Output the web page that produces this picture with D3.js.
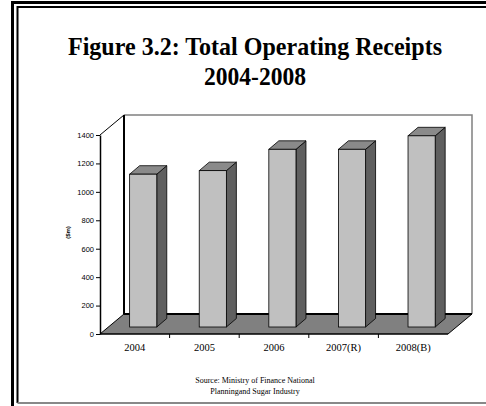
<!DOCTYPE html>
<html>
<head>
<meta charset="utf-8">
<script src="https://cdn.jsdelivr.net/npm/d3@7/dist/d3.min.js"></script>
<style>
  html, body { margin: 0; padding: 0; background: #fff; }
  svg { display: block; }
</style>
</head>
<body>
<svg id="chart" width="486" height="406"></svg>
<script>
// Total operating receipts ($m), 2004-2008
const categories = ["2004", "2005", "2006", "2007(R)", "2008(B)"];
const receipts = [1075, 1100, 1250, 1250, 1345];
const yTicks = [0, 200, 400, 600, 800, 1000, 1200, 1400];
const titleLines = ["Figure 3.2: Total Operating Receipts", "2004-2008"];
const sourceLines = ["Source: Ministry of Finance National", "Planningand Sugar Industry"];

const svg = d3.select("#chart");

// Page frame (double rule)
svg.append("path").attr("d", "M12.5,406 V2.5 H486")
  .attr("fill", "none").attr("stroke", "#000").attr("stroke-width", 3);
svg.append("path").attr("d", "M17.5,403 V7 H486")
  .attr("fill", "none").attr("stroke", "#000").attr("stroke-width", 2);
svg.append("line").attr("x1", 17.5).attr("x2", 486).attr("y1", 403).attr("y2", 403)
  .attr("stroke", "#888").attr("stroke-width", 2);

// Title
const titleSpec = [{y: 55, w: 374}, {y: 85, w: 102}];
svg.selectAll("text.title").data(titleLines).join("text")
  .attr("class", "title")
  .attr("x", 255).attr("y", (d, i) => titleSpec[i].y)
  .attr("text-anchor", "middle")
  .attr("textLength", (d, i) => titleSpec[i].w)
  .attr("lengthAdjust", "spacingAndGlyphs")
  .style("font-family", "'Liberation Serif', 'Times New Roman', serif")
  .style("font-weight", "bold").style("font-size", "25px")
  .text(d => d);

// Plot geometry: front plane scales plus the 3-D depth offset
const depth = {dx: 24, dy: -20};
const x = d3.scaleBand().domain(categories).range([100, 448])
  .paddingInner(0.61).paddingOuter(0.305);
const xEdge = d3.scaleBand().domain(categories).range([100, 448]);
const y = d3.scaleLinear().domain([0, 1400]).range([334, 135]);
const x0 = 100, x1 = 448;

// Back wall
svg.append("rect")
  .attr("x", x0 + depth.dx).attr("y", y(1400) + depth.dy)
  .attr("width", x1 - x0).attr("height", y(0) - y(1400))
  .attr("fill", "#fff");
svg.append("path")
  .attr("d", `M${x0 + depth.dx},${y(1400) + depth.dy} H${x1 + depth.dx} V${y(0) + depth.dy}`)
  .attr("fill", "none").attr("stroke", "#808080").attr("stroke-width", 1.5);
svg.append("line")
  .attr("x1", x0 + depth.dx).attr("x2", x0 + depth.dx)
  .attr("y1", y(1400) + depth.dy).attr("y2", y(0) + depth.dy)
  .attr("stroke", "#000").attr("stroke-width", 2);
// Side wall top edge
svg.append("line")
  .attr("x1", x0).attr("y1", y(1400))
  .attr("x2", x0 + depth.dx).attr("y2", y(1400) + depth.dy)
  .attr("stroke", "#000").attr("stroke-width", 1);

// Floor
svg.append("path")
  .attr("d", `M${x0},${y(0)} H${x1} L${x1 + depth.dx},${y(0) + depth.dy} H${x0 + depth.dx} Z`)
  .attr("fill", "#808080").attr("stroke", "#000").attr("stroke-width", 1);
svg.append("line")
  .attr("x1", x0 + depth.dx).attr("x2", x1 + depth.dx)
  .attr("y1", y(0) + depth.dy).attr("y2", y(0) + depth.dy)
  .attr("stroke", "#000").attr("stroke-width", 2);

// Columns: front, side and top faces
const f = 0.35, barDepth = {dx: 10, dy: -8.5};
const ox = depth.dx * f, oy = depth.dy * f;
const bw = x.bandwidth();
const bars = svg.append("g").selectAll("g").data(categories.map((c, i) => ({c, v: receipts[i]})))
  .join("g");
bars.append("path").attr("class", "side")
  .attr("d", d => {
    const xr = x(d.c) + ox + bw, yt = y(d.v) + oy, yb = y(0) + oy;
    return `M${xr},${yb} V${yt} l${barDepth.dx},${barDepth.dy} V${yb + barDepth.dy} Z`;
  })
  .attr("fill", "#5f5f5f").attr("stroke", "#000").attr("stroke-width", 0.8);
bars.append("path").attr("class", "top")
  .attr("d", d => {
    const xl = x(d.c) + ox, yt = y(d.v) + oy;
    return `M${xl},${yt} h${bw} l${barDepth.dx},${barDepth.dy} h${-bw} Z`;
  })
  .attr("fill", "#8a8a8a").attr("stroke", "#000").attr("stroke-width", 0.8);
bars.append("rect").attr("class", "front")
  .attr("x", d => x(d.c) + ox).attr("y", d => y(d.v) + oy)
  .attr("width", bw).attr("height", d => y(0) - y(d.v))
  .attr("fill", "#c0c0c0").attr("stroke", "#000").attr("stroke-width", 0.8);

// Value axis
const yAxis = svg.append("g").attr("transform", `translate(${x0},0)`)
  .call(d3.axisLeft(y).tickValues(yTicks).tickFormat(d3.format("d"))
    .tickSize(4).tickPadding(2).tickSizeOuter(0));
yAxis.select(".domain").attr("stroke", "#000").attr("stroke-width", 1.5);
yAxis.selectAll("text")
  .style("font-family", "'Liberation Sans', Arial, sans-serif")
  .style("font-size", "7.5px").attr("fill", "#000");

// Category axis
svg.append("line").attr("x1", x0).attr("x2", x1).attr("y1", y(0)).attr("y2", y(0))
  .attr("stroke", "#000").attr("stroke-width", 1.2);
svg.append("g").selectAll("line").data(categories.slice(1)).join("line")
  .attr("x1", d => xEdge(d)).attr("x2", d => xEdge(d))
  .attr("y1", y(0)).attr("y2", y(0) + 4)
  .attr("stroke", "#000").attr("stroke-width", 1);
svg.append("g").selectAll("text").data(categories).join("text")
  .attr("x", d => xEdge(d) + xEdge.bandwidth() / 2).attr("y", 351)
  .attr("text-anchor", "middle")
  .style("font-family", "'Liberation Serif', 'Times New Roman', serif")
  .style("font-size", "10.5px")
  .text(d => d);

// Axis unit label
svg.append("text")
  .attr("transform", `translate(70,${(y(0) + y(1400)) / 2 - 2}) rotate(-90)`)
  .attr("text-anchor", "middle")
  .style("font-family", "'Liberation Sans', Arial, sans-serif")
  .style("font-weight", "bold").style("font-size", "6px")
  .text("($m)");

// Source note
svg.selectAll("text.source").data(sourceLines).join("text")
  .attr("class", "source")
  .attr("x", 255).attr("y", (d, i) => 383 + i * 10.5)
  .attr("text-anchor", "middle")
  .style("font-family", "'Liberation Serif', 'Times New Roman', serif")
  .style("font-size", "8px")
  .text(d => d);
</script>
</body>
</html>
